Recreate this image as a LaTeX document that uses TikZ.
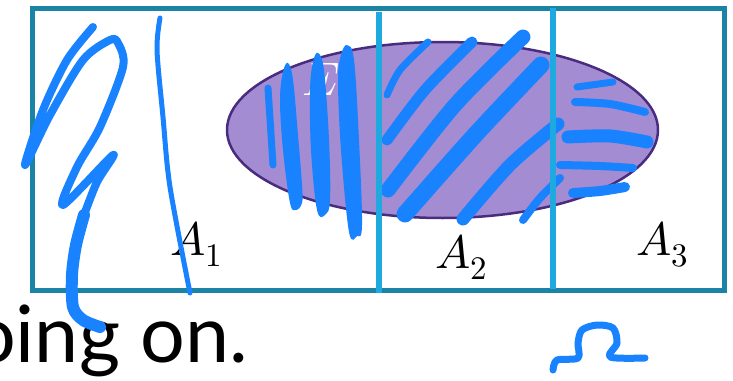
\documentclass[tikz,border=0pt]{standalone}
\usepackage{fontspec}
\usepackage{unicode-math}
\setmathfont{Latin Modern Math}
\newfontfamily\talkfont{Lato}
\definecolor{frameteal}{RGB}{27,131,166}
\definecolor{divblue}{RGB}{30,170,224}
\definecolor{setfill}{RGB}{163,140,210}
\definecolor{setrim}{RGB}{72,44,128}
\definecolor{inkblue}{RGB}{24,130,255}
\tikzset{
  frame/.style={draw=frameteal, line width=5pt},
  divider/.style={draw=divblue, line width=6.5pt},
  setE/.style={draw=setrim, fill=setfill, line width=2.5pt},
  lbl/.style={inner sep=0pt, anchor=base west, font=\fontsize{47}{50}\selectfont},
  talk/.style={inner sep=0pt, anchor=base west, font=\talkfont\fontsize{79}{84}\selectfont},
  ink/.style={draw=inkblue, line cap=round, line join=round},
}

\begin{document}
\begin{tikzpicture}[x=1pt, y=-1pt]
\useasboundingbox (0,0) rectangle (733,380);
\clip (0,0) rectangle (733,380);

% ===================== SAMPLE SPACE AND EVENT =====================
\draw[frame] (32,8.5) rectangle (724,290);
\draw[setE] (442.5,130) ellipse [x radius=215.5, y radius=88];
\node[lbl, text=white] (e) at (302,95) {$E$};

\node[lbl] (a1) at (170,255) {$A_1$};
\node[lbl] (a2) at (435,268) {$A_2$};
\node[lbl] (a3) at (636,255) {$A_3$};

\node[talk] (txt) at (-29,362) {oing on.};

% ===================== PEN STROKES =====================
% left margin
\draw[ink, line width=8pt] plot[smooth, tension=0.5] coordinates {
  (93,27) (67,60) (43,110) (25,165) (50,115) (83,60) (110,40) (118,43)
  (123,67) (100,127) (77,167) (63,205) (113,155) (97,182) (84,215)};
\draw[ink, line width=12pt] plot[smooth, tension=0.5] coordinates {
  (84,215) (76,245) (72,275) (73,307) (83,320) (100,327)};
\draw[ink, line width=5pt] plot[smooth] coordinates {
  (160,18) (157,50) (163,117) (170,187) (190,293)};

% vertical hatching
\draw[ink, line width=7pt]  (268,88) -- (273,165);
\fill[inkblue] plot[smooth cycle, tension=0.6] coordinates {
  (288,63) (293,80) (298,135) (302,185) (302,203) (296,210) (290,203) (283,150) (280,100) (283,72)};
\fill[inkblue] plot[smooth cycle, tension=0.6] coordinates {
  (318,53) (324,70) (329,140) (330,200) (325,215) (317,210) (311,150) (310,90) (313,62)};
\fill[inkblue] plot[smooth cycle, tension=0.6] coordinates {
  (347,45) (354,60) (359,140) (362,225) (357,236) (349,232) (341,150) (338,80) (341,55)};

% diagonal hatching
\draw[ink, line width=7pt]  plot[smooth] coordinates {(387,95) (400,70) (428,42)};
\draw[ink, line width=11pt] plot[smooth] coordinates {(387,140) (425,90) (472,42)};
\draw[ink, line width=15pt] plot[smooth] coordinates {(388,190) (455,105) (523,37)};
\draw[ink, line width=17pt] plot[smooth] coordinates {(405,214) (475,135) (541,65)};
\draw[ink, line width=13pt] plot[smooth] coordinates {(463,219) (510,165) (558,124)};
\draw[ink, line width=8pt]  plot[smooth] coordinates {(523,220) (540,198) (560,178)};

% horizontal hatching
\draw[ink, line width=7pt]  (577,87) -- (613,82);
\draw[ink, line width=8pt]  plot[smooth] coordinates {(575,102) (610,104) (645,112)};
\draw[ink, line width=13pt] plot[smooth] coordinates {(568,137) (610,136) (647,142)};
\draw[ink, line width=8pt]  plot[smooth] coordinates {(560,165) (600,166) (633,168)};
\draw[ink, line width=10pt] plot[smooth] coordinates {(573,193) (600,191) (625,187)};

% omega
\draw[ink, line width=7pt] plot[smooth, tension=0.5] coordinates {
  (553,370) (557,360) (578,358) (578,343) (582,330) (597,325) (613,328)
  (617,343) (610,357) (645,358)};

% partition lines
\draw[divider] (379,12) -- (379,293);
\draw[divider] (553,8) -- (553,289);

\end{tikzpicture}
\end{document}
